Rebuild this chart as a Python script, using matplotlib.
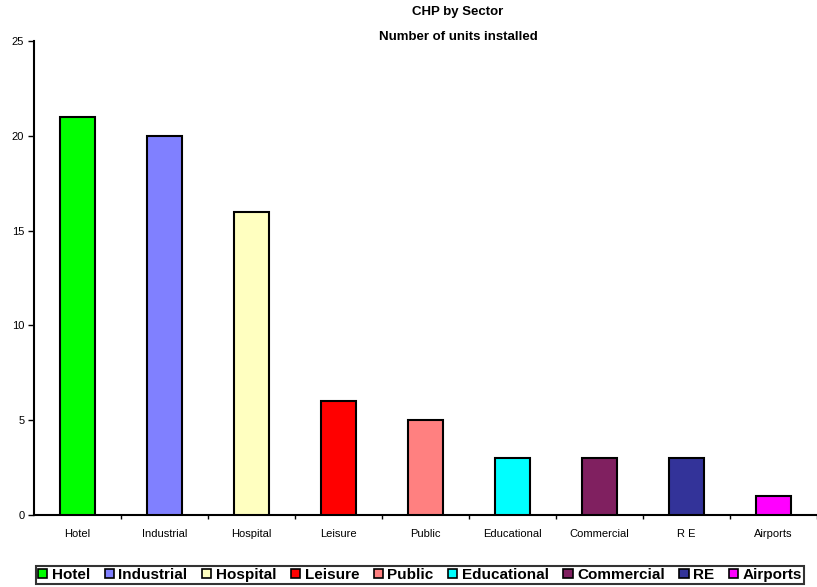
import numpy as np
import matplotlib.pyplot as plt
from matplotlib.patches import Patch

plt.rcParams['font.family'] = ['Liberation Sans', 'DejaVu Sans']

# Data
sectors = ['Hotel', 'Industrial', 'Hospital', 'Leisure', 'Public',
           'Educational', 'Commercial', 'R E', 'Airports']
legend_labels = ['Hotel', 'Industrial', 'Hospital', 'Leisure', 'Public',
                 'Educational', 'Commercial', 'RE', 'Airports']
units = [21, 20, 16, 6, 5, 3, 3, 3, 1]
colors = ['#00FF00', '#8080FF', '#FFFFC0', '#FF0000', '#FF8080',
          '#00FFFF', '#802060', '#333399', '#FF00FF']

W, H = 817, 587
fig = plt.figure(figsize=(W / 100, H / 100), dpi=100)
ax = fig.add_axes([34 / W, (H - 515) / H, (W - 34) / W, (515 - 41) / H])

x = np.arange(len(sectors))
ax.bar(x, units, width=0.4, color=colors, edgecolor='black', linewidth=1.5, zorder=3)

ax.set_ylim(0, 25)
ax.set_xlim(-0.5, len(sectors) - 0.5 - 8 / 88)
ax.set_yticks([0, 5, 10, 15, 20, 25])
ax.tick_params(axis='y', labelsize=8, length=4, width=1, pad=3)

ax.set_xticks(x)
ax.set_xticklabels(sectors, fontsize=8)
ax.tick_params(axis='x', length=0, pad=10)
ax.set_xticks(np.arange(len(sectors)) + 0.5, minor=True)
ax.tick_params(axis='x', which='minor', length=3, width=1, direction='out')

for s in ['top', 'right']:
    ax.spines[s].set_visible(False)
ax.spines['left'].set_linewidth(1.5)
ax.spines['bottom'].set_linewidth(1.5)

fig.text(458 / W, 1 - 12 / H, 'CHP by Sector', ha='center', va='center',
         fontsize=9.5, fontweight='bold')
fig.text(458 / W, 1 - 37 / H, 'Number of units installed', ha='center', va='center',
         fontsize=9.5, fontweight='bold')

handles = [Patch(facecolor=c, edgecolor='black', linewidth=1.2) for c in colors]
leg = fig.legend(handles, legend_labels, ncol=9, loc='center',
                 bbox_to_anchor=(420 / W, 1 - 575 / H),
                 prop={'weight': 'bold', 'size': 11},
                 frameon=True, fancybox=False, edgecolor='black',
                 handlelength=0.6, handleheight=0.6, handletextpad=0.3,
                 columnspacing=0.95, borderpad=0.15, borderaxespad=0)
leg.get_frame().set_linewidth(1.5)

fig.savefig('out.png', dpi=100)
